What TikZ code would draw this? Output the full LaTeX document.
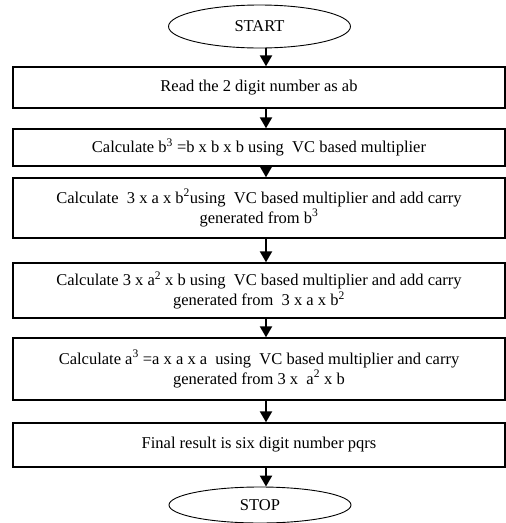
\documentclass[tikz,border=0pt]{standalone}
\usepackage{fontspec}
\setmainfont{Liberation Serif}
\usetikzlibrary{shapes.geometric,arrows.meta}
\begin{document}
\begin{tikzpicture}[x=1pt,y=-1pt,
  every node/.style={font=\fontsize{16.5}{20}\selectfont},
  box/.style={draw, line width=1.4pt, minimum width=492pt, inner sep=0pt, align=center},
  term/.style={draw, ellipse, line width=0.9pt, minimum width=182pt, inner sep=0pt},
  flow/.style={line width=2.2pt, -{Triangle[length=11pt,width=12pt]}}]
\useasboundingbox (0,0) rectangle (506,523);
\coordinate (ax) at (266,0);
\node[term, minimum height=43pt] (start) at (259.5,26.5) {START};
\node[box, minimum height=41pt] (b1) at (259,87.5) {Read the 2 digit number as ab};
\node[box, minimum height=37pt] (b2) at (259,147.5) {Calculate b\textsuperscript{3} =b x b x b using~ VC based multiplier};
\node[box, minimum height=60pt] (b3) at (259,208) {Calculate~ 3 x a x b\textsuperscript{2}using~ VC based multiplier and add carry\\generated from b\textsuperscript{3}};
\node[box, minimum height=55pt] (b4) at (259,290.5) {Calculate 3 x a\textsuperscript{2} x b using~ VC based multiplier and add carry\\generated from~ 3 x a x b\textsuperscript{2}};
\node[box, minimum height=62pt] (b5) at (259,369) {Calculate a\textsuperscript{3} =a x a x a~ using~ VC based multiplier and carry\\generated from 3 x~ a\textsuperscript{2} x b};
\node[box, minimum height=44pt] (b6) at (259,445) {Final result is six digit number pqrs};
\node[term, minimum height=36pt] (stop) at (260,505) {STOP};
\draw[flow] (start.south -| ax) -- (b1.north -| ax);
\draw[flow] (b1.south -| ax) -- (b2.north -| ax);
\draw[flow] (b2.south -| ax) -- (b3.north -| ax);
\draw[flow] (b3.south -| ax) -- (b4.north -| ax);
\draw[flow] (b4.south -| ax) -- (b5.north -| ax);
\draw[flow] (b5.south -| ax) -- (b6.north -| ax);
\draw[flow] (b6.south -| ax) -- (stop.north -| ax);
\end{tikzpicture}
\end{document}
